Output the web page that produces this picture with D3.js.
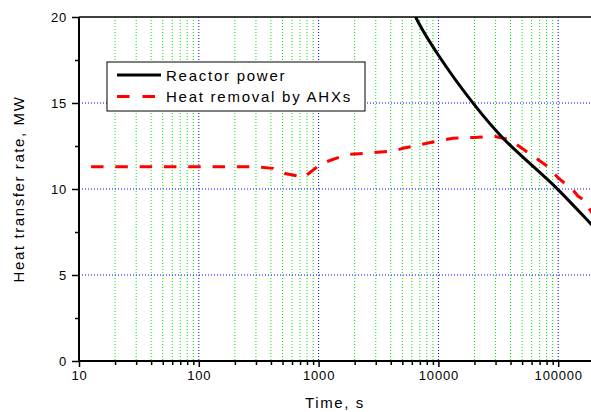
<!DOCTYPE html>
<html>
<head>
<meta charset="utf-8">
<script src="https://cdn.jsdelivr.net/npm/d3@7"></script>
<style>
  body { margin: 0; background: #fff; }
  svg { display: block; font-family: Arial, "Liberation Sans", sans-serif; }
</style>
</head>
<body>
<div id="chart"></div>
<script>
// values
let powerTime = [6000, 6460, 9980, 19540, 34800, 97300, 184000, 200000]
let powerMW = [20.6, 20, 17.79, 14.98, 12.94, 10.04, 8.03, 7.77]

let ahxTime = [12.6, 100, 283, 417, 525, 680, 740, 1070, 1720, 2750, 4260, 5160, 8190, 13200, 20000, 29700, 37400, 42700, 57000, 82200, 100000, 133000, 146000, 164000, 188000, 200000]
let ahxMW = [11.3, 11.3, 11.3, 11.2, 10.9, 10.75, 10.65, 11.5, 12.0, 12.1, 12.22, 12.38, 12.67, 12.95, 13.0, 13.05, 12.9, 12.7, 12.07, 11.3, 10.64, 9.94, 9.59, 9.36, 8.7, 8.4]

let xMajor = [10, 100, 1000, 10000, 100000]
let yMajor = [0, 5, 10, 15, 20]
let yMinor = [2.5, 7.5, 12.5, 17.5]
let legendNames = ['Reactor power', 'Heat removal by AHXs']

let width = 591, height = 412
let pLeft = 79, pTop = 17, pBottom = 361, pRight = 591

let x = d3.scaleLog().domain([10, 200000]).range([pLeft, pLeft + 119.8 * Math.log10(20000)])
let y = d3.scaleLinear().domain([0, 20]).range([pBottom, pTop])

// minor decades 2..9
let xMinor = []
xMajor.forEach(d => {
  for (let k = 2; k <= 9; k++) xMinor.push(d * k)
})
xMinor = xMinor.filter(d => d <= 200000)

let svg = d3.select('#chart').append('svg')
  .attr('width', width)
  .attr('height', height)

svg.append('defs').append('clipPath').attr('id', 'clip')
  .append('rect')
  .attr('x', pLeft).attr('y', pTop)
  .attr('width', pRight - pLeft).attr('height', pBottom - pTop)

let plot = svg.append('g').attr('clip-path', 'url(#clip)')

// grid
plot.selectAll('.vminor').data(xMinor).enter().append('line')
  .attr('x1', d => x(d)).attr('x2', d => x(d))
  .attr('y1', pTop).attr('y2', pBottom)
  .attr('stroke', '#00e000')
  .attr('stroke-width', 1)
  .attr('stroke-dasharray', '1 2')

plot.selectAll('.vmajor').data(xMajor.slice(1)).enter().append('line')
  .attr('x1', d => x(d)).attr('x2', d => x(d))
  .attr('y1', pTop).attr('y2', pBottom)
  .attr('stroke', '#0000ff')
  .attr('stroke-width', 1)
  .attr('stroke-dasharray', '1 2')

plot.selectAll('.hmajor').data([5, 10, 15]).enter().append('line')
  .attr('x1', pLeft).attr('x2', pRight)
  .attr('y1', d => y(d)).attr('y2', d => y(d))
  .attr('stroke', '#0000ff')
  .attr('stroke-width', 1)
  .attr('stroke-dasharray', '1 2')

// series
let line = d3.line()
  .x(d => x(d[0]))
  .y(d => y(d[1]))

plot.append('path')
  .datum(d3.zip(ahxTime, ahxMW))
  .attr('d', line)
  .attr('fill', 'none')
  .attr('stroke', '#ff0000')
  .attr('stroke-width', 3)
  .attr('stroke-dasharray', '12.5 11.8')

plot.append('path')
  .datum(d3.zip(powerTime, powerMW))
  .attr('d', line.curve(d3.curveCatmullRom))
  .attr('fill', 'none')
  .attr('stroke', '#000')
  .attr('stroke-width', 3)

// axes
let xAxis = svg.append('g').attr('transform', `translate(0,${pBottom})`)
xAxis.call(d3.axisBottom(x).tickValues(xMinor).tickSize(4).tickFormat(''))
xAxis.append('g').call(d3.axisBottom(x).tickValues(xMajor).tickSize(6).tickFormat(d3.format('d')))
xAxis.selectAll('.domain').remove()
xAxis.selectAll('line').attr('stroke', '#000').attr('stroke-width', 1.5)
xAxis.selectAll('text')
  .attr('fill', '#000')
  .style('font-size', '13px')
  .style('letter-spacing', '0.8px')
  .attr('y', 10)

let yAxis = svg.append('g').attr('transform', `translate(${pLeft},0)`)
yAxis.call(d3.axisLeft(y).tickValues(yMinor).tickSize(4).tickFormat(''))
yAxis.append('g').call(d3.axisLeft(y).tickValues(yMajor).tickSize(7).tickFormat(d3.format('d')))
yAxis.selectAll('.domain').remove()
yAxis.selectAll('line').attr('stroke', '#000').attr('stroke-width', 1.5)
yAxis.selectAll('text')
  .attr('fill', '#000')
  .style('font-size', '13px')
  .style('letter-spacing', '0.8px')
  .attr('x', -12)

// frame lines
svg.append('line').attr('x1', pLeft).attr('x2', pRight).attr('y1', pBottom).attr('y2', pBottom)
  .attr('stroke', '#000').attr('stroke-width', 2)
svg.append('line').attr('x1', pLeft).attr('x2', pLeft).attr('y1', pTop).attr('y2', pBottom + 1)
  .attr('stroke', '#000').attr('stroke-width', 2)
svg.append('line').attr('x1', pLeft).attr('x2', pRight).attr('y1', pTop).attr('y2', pTop)
  .attr('stroke', '#000').attr('stroke-width', 1.5)

// titles
svg.append('text')
  .attr('x', (pLeft + pRight) / 2)
  .attr('y', 408)
  .attr('text-anchor', 'middle')
  .style('font-size', '15px')
  .style('letter-spacing', '1.6px')
  .text('Time, s')

svg.append('text')
  .attr('transform', `translate(24,${(pTop + pBottom) / 2}) rotate(-90)`)
  .attr('text-anchor', 'middle')
  .style('font-size', '15px')
  .style('letter-spacing', '1.6px')
  .text('Heat transfer rate, MW')

// legend
let legend = svg.append('g').attr('transform', 'translate(107,62)')
legend.append('rect')
  .attr('width', 258).attr('height', 49)
  .attr('fill', '#fff')
  .attr('stroke', '#000')
  .attr('stroke-width', 1)

let items = legend.selectAll('.item').data(legendNames).enter().append('g')
  .attr('transform', (d, i) => `translate(0,${13 + i * 21.5})`)
items.append('line')
  .attr('x1', 10).attr('x2', 54)
  .attr('stroke', (d, i) => i ? '#ff0000' : '#000')
  .attr('stroke-width', 3)
  .attr('stroke-dasharray', (d, i) => i ? '12.5 13' : null)
items.append('text')
  .attr('x', 59)
  .attr('y', 5.5)
  .style('font-size', '15px')
  .style('letter-spacing', '1.75px')
  .text(d => d)
</script>
</body>
</html>
